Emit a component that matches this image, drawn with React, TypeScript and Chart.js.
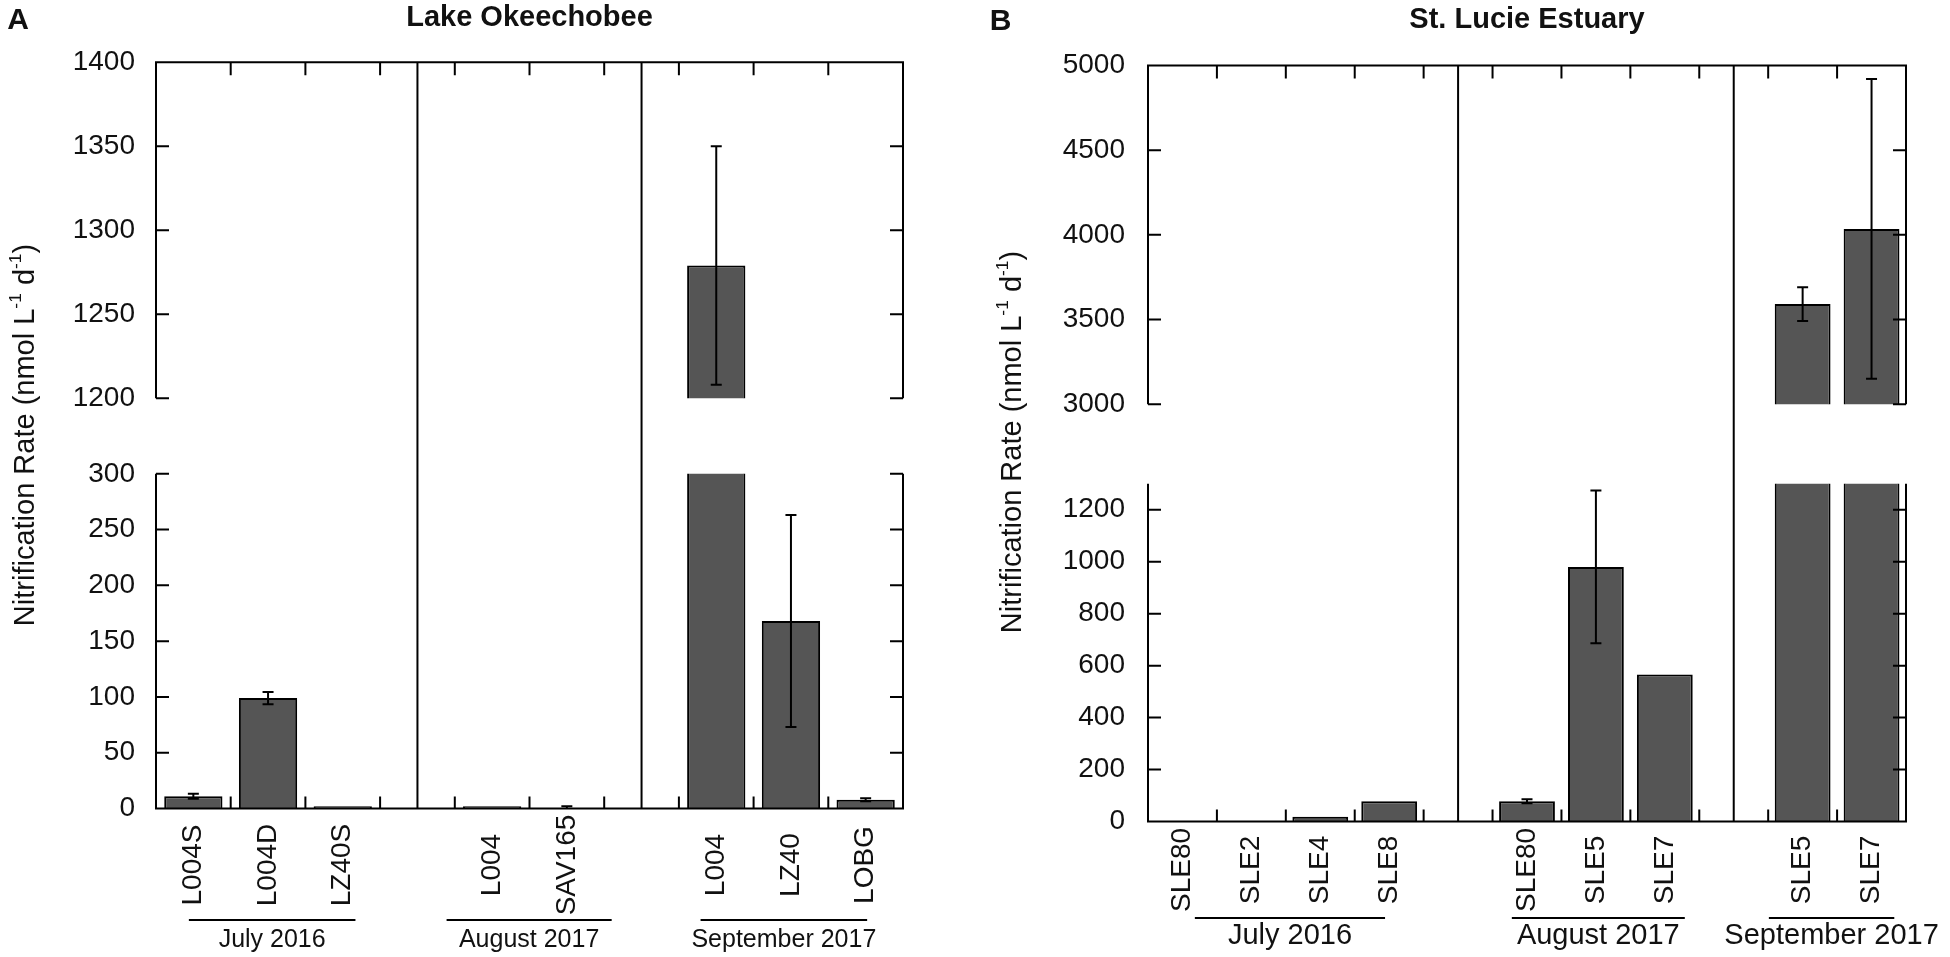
import React, { useEffect, useRef } from 'react'
import { Chart, BarController, BarElement, CategoryScale, LinearScale } from 'chart.js'
import type { ChartConfiguration, Plugin } from 'chart.js'

Chart.register(BarController, BarElement, CategoryScale, LinearScale)

const FONT = '"Liberation Sans", Arial, Helvetica, sans-serif'

// A: Lake Okeechobee. '' is the empty slot between two sampling trips
const lakeSites = ['L004S', 'L004D', 'LZ40S', '', 'L004', 'SAV165', '', 'L004', 'LZ40', 'LOBG']
const lakeRate: (number | null)[] = [11, 99, 2, null, 2, 0.5, null, 1279, 168, 7.8]
const lakeErr: (number | null)[] = [2.3, 5.5, 0, null, 0, 1.5, null, 71, 95, 1.4]
const lakeUpperTicks = [1200, 1250, 1300, 1350, 1400]
const lakeLowerTicks = [0, 50, 100, 150, 200, 250, 300]

// B: St. Lucie Estuary
const estuarySites = ['SLE80', 'SLE2', 'SLE4', 'SLE8', '', 'SLE80', 'SLE5', 'SLE7', '', 'SLE5', 'SLE7']
const estuaryRate: (number | null)[] = [0, 0, 18, 78, null, 78, 980, 566, null, 3591, 4035]
const estuaryErr: (number | null)[] = [0, 0, 0, 0, null, 8, 294, 0, null, 100, 885]
const estuaryUpperTicks = [3000, 3500, 4000, 4500, 5000]
const estuaryLowerTicks = [0, 200, 400, 600, 800, 1000, 1200]
const estuaryLowerMax = 1300

const trips = ['July 2016', 'August 2017', 'September 2017']

// where the underline of each trip starts/ends, in category units
const lakeTripSpan = [[-0.06, 2.17], [3.39, 5.6], [6.79, 9.02]]
const estuaryTripSpan = [[0.18, 2.94], [4.78, 7.29], [8.51, 10.33]]

type Area = { left: number; right: number; top: number; bottom: number }
type Box = { left: number; top: number; width: number; height: number }

interface PartSpec {
  upper: boolean
  labels: string[]
  rate: (number | null)[]
  err: (number | null)[]
  ticks: number[]
  max?: number
  box: Box
  area: Area
  barPct: number
  tickPad: number
  labelDy?: number
  lineDy?: number
  tripDy?: number
  tripFont?: number
  tripSpan?: number[][]
}

function framePlugin(s: PartSpec): Plugin<'bar'> {
  return {
    id: 'frame',
    afterDatasetsDraw(chart) {
      const { ctx, chartArea: a } = chart
      const x = chart.scales.x
      const y = chart.scales.y
      ctx.save()
      ctx.beginPath()
      ctx.rect(a.left, a.top, a.right - a.left, a.bottom - a.top)
      ctx.clip()
      ctx.strokeStyle = '#000'
      ctx.lineWidth = 2
      s.rate.forEach((m, i) => {
        const e = s.err[i]
        if (m == null || !e) return
        const px = x.getPixelForValue(i)
        const hi = y.getPixelForValue(m + e)
        const lo = y.getPixelForValue(m - e)
        ctx.beginPath()
        ctx.moveTo(px, hi)
        ctx.lineTo(px, lo)
        ctx.moveTo(px - 5.5, hi)
        ctx.lineTo(px + 5.5, hi)
        ctx.moveTo(px - 5.5, lo)
        ctx.lineTo(px + 5.5, lo)
        ctx.stroke()
      })
      ctx.restore()
    },
    afterDraw(chart) {
      const { ctx, chartArea: a } = chart
      const x = chart.scales.x
      const y = chart.scales.y
      ctx.save()
      ctx.strokeStyle = '#000'
      ctx.lineWidth = 2
      ctx.beginPath()
      // axes
      ctx.moveTo(a.left, a.top - (s.upper ? 1 : 0))
      ctx.lineTo(a.left, a.bottom + (s.upper ? 0 : 1))
      ctx.moveTo(a.right, a.top - (s.upper ? 1 : 0))
      ctx.lineTo(a.right, a.bottom + (s.upper ? 0 : 1))
      const edge = s.upper ? a.top : a.bottom
      ctx.moveTo(a.left - 1, edge)
      ctx.lineTo(a.right + 1, edge)
      // inward ticks on both sides
      y.ticks.forEach(t => {
        const py = y.getPixelForValue(t.value)
        ctx.moveTo(a.left, py)
        ctx.lineTo(a.left + 13, py)
        ctx.moveTo(a.right - 13, py)
        ctx.lineTo(a.right, py)
      })
      for (let i = 0; i < s.labels.length - 1; i++) {
        const bx = (x.getPixelForValue(i) + x.getPixelForValue(i + 1)) / 2
        ctx.moveTo(bx, edge)
        ctx.lineTo(bx, s.upper ? edge + 13 : edge - 12)
      }
      // trip separators run on through the axis break
      s.labels.forEach((l, i) => {
        if (l !== '') return
        const px = x.getPixelForValue(i)
        ctx.moveTo(px, s.upper ? a.top : 0)
        ctx.lineTo(px, s.upper ? chart.height : a.bottom)
      })
      ctx.stroke()

      if (!s.upper) {
        ctx.fillStyle = '#111'
        ctx.font = `28px ${FONT}`
        ctx.textAlign = 'center'
        ctx.textBaseline = 'middle'
        s.labels.forEach((l, i) => {
          if (!l) return
          ctx.save()
          ctx.translate(x.getPixelForValue(i), a.bottom + (s.labelDy ?? 0))
          ctx.rotate(-Math.PI / 2)
          ctx.fillText(l, 0, 0)
          ctx.restore()
        })
        ctx.font = `${s.tripFont}px ${FONT}`
        ctx.textBaseline = 'alphabetic'
        trips.forEach((t, k) => {
          const [f, to] = s.tripSpan![k]
          const x0 = x.getPixelForValue(f)
          const x1 = x.getPixelForValue(to)
          ctx.beginPath()
          ctx.moveTo(x0, a.bottom + s.lineDy!)
          ctx.lineTo(x1, a.bottom + s.lineDy!)
          ctx.stroke()
          ctx.fillText(t, (x0 + x1) / 2, a.bottom + s.tripDy!)
        })
      }
      ctx.restore()
    },
  }
}

function buildConfig(s: PartSpec): ChartConfiguration<'bar'> {
  return {
    type: 'bar',
    data: {
      labels: s.labels,
      datasets: [
        {
          data: s.rate,
          backgroundColor: '#555555',
          borderColor: '#000',
          borderWidth: 2,
          barPercentage: s.barPct,
          categoryPercentage: 1,
          clip: 0,
        },
      ],
    },
    options: {
      responsive: true,
      maintainAspectRatio: false,
      animation: false,
      events: [],
      layout: {
        padding: {
          left: 0,
          right: s.box.width - s.area.right,
          top: s.area.top,
          bottom: s.box.height - s.area.bottom,
        },
      },
      scales: {
        x: { display: false },
        y: {
          min: s.ticks[0],
          max: s.max ?? s.ticks[s.ticks.length - 1],
          grid: { display: false, drawTicks: false },
          border: { display: false },
          ticks: {
            color: '#111',
            font: { family: FONT, size: 28 },
            padding: s.tickPad,
            callback: v => String(v),
          },
          afterBuildTicks: sc => {
            sc.ticks = s.ticks.map(v => ({ value: v }))
          },
          afterFit: sc => {
            sc.width = s.area.left
          },
        },
      },
    },
    plugins: [framePlugin(s)],
  }
}

const lakeLower = { labelDy: 56.5, lineDy: 111.5, tripDy: 138, tripFont: 25, tripSpan: lakeTripSpan }
const estuaryLower = { labelDy: 48.5, lineDy: 96.5, tripDy: 122, tripFont: 29, tripSpan: estuaryTripSpan }

const parts: PartSpec[] = [
  {
    upper: true, labels: lakeSites, rate: lakeRate, err: lakeErr, ticks: lakeUpperTicks,
    box: { left: 0, top: 0, width: 960, height: 436 },
    area: { left: 156, right: 903, top: 62.3, bottom: 415 },
    barPct: 0.78, tickPad: 21,
  },
  {
    upper: false, labels: lakeSites, rate: lakeRate, err: lakeErr, ticks: lakeLowerTicks,
    box: { left: 0, top: 436, width: 960, height: 521 },
    area: { left: 156, right: 903, top: 20.7, bottom: 372.5 },
    barPct: 0.78, tickPad: 21, ...lakeLower,
  },
  {
    upper: true, labels: estuarySites, rate: estuaryRate, err: estuaryErr, ticks: estuaryUpperTicks,
    box: { left: 960, top: 0, width: 990, height: 444 },
    area: { left: 188, right: 946, top: 65.5, bottom: 423 },
    barPct: 0.81, tickPad: 23,
  },
  {
    upper: false, labels: estuarySites, rate: estuaryRate, err: estuaryErr, ticks: estuaryLowerTicks,
    max: estuaryLowerMax,
    box: { left: 960, top: 444, width: 990, height: 513 },
    area: { left: 188, right: 946, top: 20.3, bottom: 377.5 },
    barPct: 0.81, tickPad: 23, ...estuaryLower,
  },
]

function ChartPart({ spec }: { spec: PartSpec }) {
  const canvasRef = useRef<HTMLCanvasElement>(null)

  useEffect(() => {
    if (!canvasRef.current) return
    const chart = new Chart(canvasRef.current, buildConfig(spec))
    return () => chart.destroy()
  }, [spec])

  return (
    <div style={{ position: 'absolute', ...spec.box }}>
      <canvas ref={canvasRef} />
    </div>
  )
}

function Label({ x, y, size, bold, rotate, children }: {
  x: number; y: number; size: number; bold?: boolean; rotate?: boolean; children: React.ReactNode
}) {
  return (
    <div
      style={{
        position: 'absolute',
        left: x,
        top: y,
        transform: `translate(-50%, -50%)${rotate ? ' rotate(-90deg)' : ''}`,
        whiteSpace: 'nowrap',
        fontFamily: FONT,
        fontSize: size,
        fontWeight: bold ? 'bold' : 'normal',
        lineHeight: 1,
        color: '#111',
      }}
    >
      {children}
    </div>
  )
}

const sup = { fontSize: '0.6em', verticalAlign: '0.7em', lineHeight: 0 }

function YTitle({ x, y }: { x: number; y: number }) {
  return (
    <Label x={x} y={y} size={29} rotate>
      Nitrification Rate (nmol L<span style={sup}>-1</span> d<span style={sup}>-1</span>)
    </Label>
  )
}

export default function App() {
  return (
    <div style={{ position: 'absolute', left: 0, top: 0, width: 1950, height: 957, background: '#fff', overflow: 'hidden' }}>
      {parts.map((p, i) => (
        <ChartPart key={i} spec={p} />
      ))}
      <Label x={18} y={18.5} size={30} bold>A</Label>
      <Label x={1000.5} y={20} size={30} bold>B</Label>
      <Label x={529.5} y={16} size={29} bold>Lake Okeechobee</Label>
      <Label x={1527} y={17.5} size={29} bold>St. Lucie Estuary</Label>
      <YTitle x={24} y={435} />
      <YTitle x={1011} y={442} />
    </div>
  )
}
